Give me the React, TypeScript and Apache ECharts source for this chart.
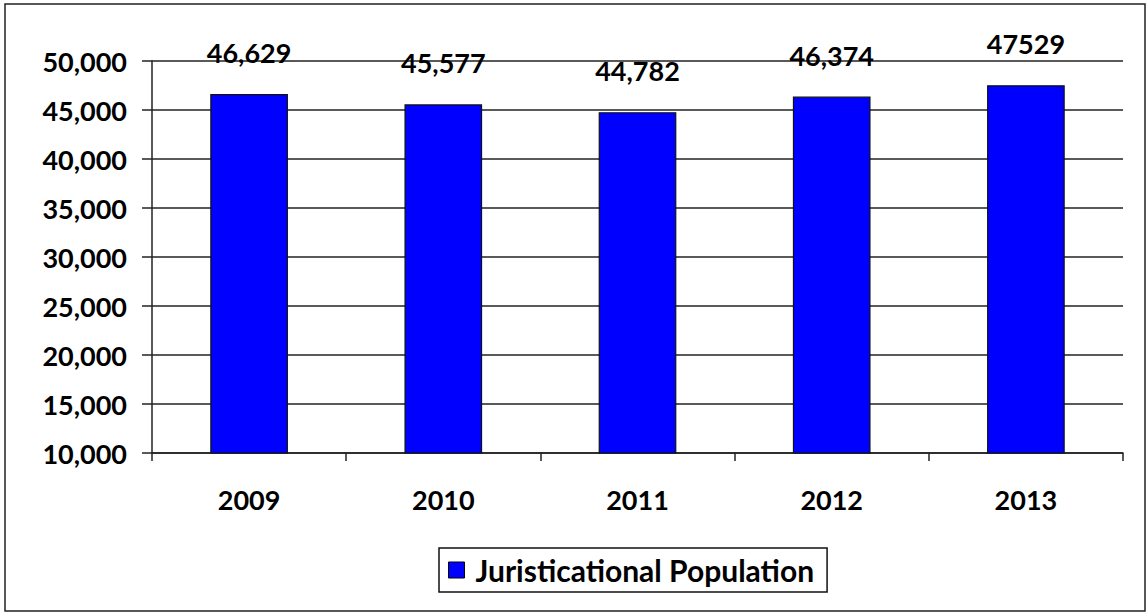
import React, { useEffect, useRef } from "react";
import * as echarts from "echarts";

const categories = ["2009", "2010", "2011", "2012", "2013"];
const values = [46629, 45577, 44782, 46374, 47529];
const valueLabels = ["46,629", "45,577", "44,782", "46,374", "47529"];
const seriesName = "Juristicational Population";
const yMin = 10000;
const yMax = 50000;
const yStep = 5000;

const FONT = "Lato";

export default function App() {
  const ref = useRef<HTMLDivElement>(null);
  useEffect(() => {
    if (!ref.current) return;
    const chart = echarts.init(ref.current, null, { renderer: "svg" });
    chart.setOption({
      animation: false,
      backgroundColor: "#ffffff",
      graphic: [
        {
          type: "rect",
          shape: { x: 5, y: 4, width: 1140, height: 607 },
          style: { fill: "none", stroke: "#222", lineWidth: 1.5 },
          silent: true,
        },
      ],
      grid: { left: 152, top: 61, width: 971, height: 392 },
      legend: {
        data: [seriesName],
        left: 439,
        top: 548,
        padding: [7, 13, 7, 9],
        borderColor: "#111",
        borderWidth: 1.5,
        itemWidth: 16,
        itemHeight: 16,
        itemGap: 10,
        icon: "rect",
        textStyle: {
          fontFamily: FONT,
          fontWeight: "bold",
          fontSize: 30,
          color: "#000",
          padding: [0, 0, 0, 6],
        },
        itemStyle: { borderColor: "#000", borderWidth: 1 },
      },
      xAxis: {
        type: "category",
        data: categories,
        axisLine: { lineStyle: { color: "#222", width: 1.5 } },
        axisTick: { show: true, length: 8, lineStyle: { color: "#222", width: 1.5 } },
        axisLabel: {
          margin: 33,
          fontFamily: FONT,
          fontWeight: "bold",
          fontSize: 27,
          color: "#000",
        },
      },
      yAxis: {
        type: "value",
        min: yMin,
        max: yMax,
        interval: yStep,
        axisLine: { show: true, lineStyle: { color: "#222", width: 1.5 } },
        axisTick: { show: true, length: 10, lineStyle: { color: "#222", width: 1.5 } },
        splitLine: { show: true, lineStyle: { color: "#222", width: 1.5 } },
        axisLabel: {
          margin: 25,
          fontFamily: FONT,
          fontWeight: "bold",
          fontSize: 27,
          color: "#000",
          formatter: (v: number) => v.toLocaleString("en-US"),
        },
      },
      series: [
        {
          name: seriesName,
          type: "bar",
          data: values,
          barWidth: "40%",
          itemStyle: { color: "#0000ff", borderColor: "#111", borderWidth: 1.2 },
          label: {
            show: true,
            position: "top",
            distance: 28,
            fontFamily: FONT,
            fontWeight: "bold",
            fontSize: 27,
            color: "#000",
            formatter: (p: any) => valueLabels[p.dataIndex],
          },
        },
      ],
    });
    return () => chart.dispose();
  }, []);
  return (
    <div
      ref={ref}
      style={{ position: "fixed", left: 0, top: 0, width: 1147, height: 613 }}
    />
  );
}
